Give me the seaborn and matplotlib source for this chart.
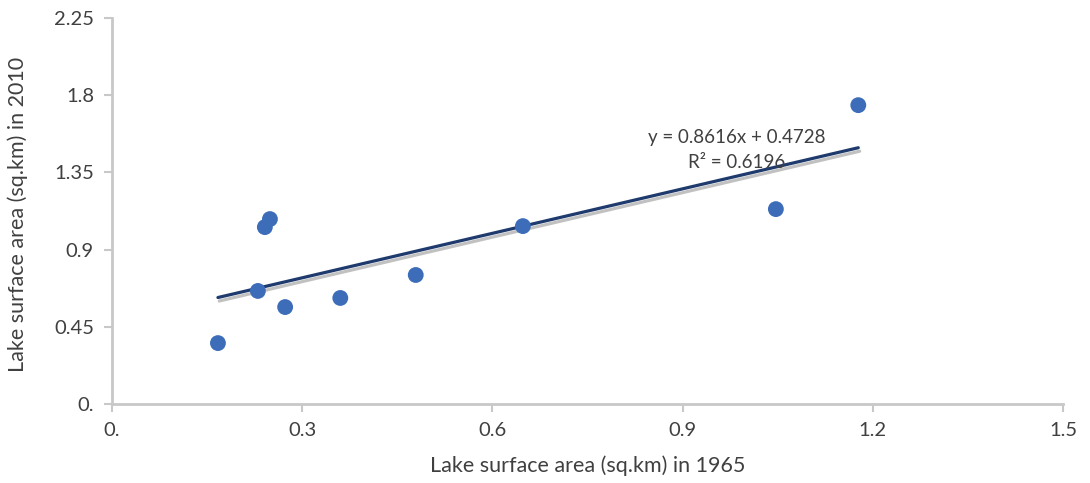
import matplotlib
matplotlib.use("Agg")
import matplotlib.pyplot as plt
import matplotlib.patheffects as pe
import seaborn as sns
import pandas as pd
import numpy as np

area_1965 = [0.167, 0.230, 0.241, 0.249, 0.273, 0.360, 0.479, 0.648, 1.047, 1.177]
area_2010 = [0.355, 0.659, 1.031, 1.078, 0.565, 0.618, 0.752, 1.037, 1.136, 1.742]
x_ticks = [0.0, 0.3, 0.6, 0.9, 1.2, 1.5]
x_tick_labels = ["0.", "0.3", "0.6", "0.9", "1.2", "1.5"]
y_ticks = [0.0, 0.45, 0.9, 1.35, 1.8, 2.25]
y_tick_labels = ["0.", "0.45", "0.9", "1.35", "1.8", "2.25"]
equation_text = "y = 0.8616x + 0.4728\nR² = 0.6196"

df = pd.DataFrame({"x": area_1965, "y": area_2010})

sns.set_theme(style="white")
plt.rcParams["font.family"] = ["Lato", "DejaVu Sans"]

fig = plt.figure(figsize=(10.9, 4.83), dpi=100)
ax = fig.add_axes([0.1028, 0.1636, 0.8725, 0.7991])

sns.scatterplot(data=df, x="x", y="y", ax=ax, s=130, color="#3D6DB9",
                edgecolor="none", zorder=3)
sns.regplot(data=df, x="x", y="y", ax=ax, ci=None, scatter=False, truncate=True,
            line_kws=dict(color="#1F3B6E", lw=2.3, zorder=2,
                          path_effects=[pe.SimpleLineShadow(offset=(1, -2.5), shadow_color="#999999", alpha=0.6),
                                        pe.Normal()]))

ax.set_xlim(0, 1.5)
ax.set_ylim(0, 2.25)
ax.set_xticks(x_ticks)
ax.set_xticklabels(x_tick_labels)
ax.set_yticks(y_ticks)
ax.set_yticklabels(y_tick_labels)

for s in ["top", "right"]:
    ax.spines[s].set_visible(False)
for s in ["left", "bottom"]:
    ax.spines[s].set_color("#C8C8C8")
    ax.spines[s].set_linewidth(2)
ax.tick_params(axis="both", which="major", length=6, width=1.5, color="#C8C8C8",
               labelsize=14.5, labelcolor="#404040", pad=7, direction="out",
               left=True, bottom=True)
ax.grid(False)

ax.set_xlabel("Lake surface area (sq.km) in 1965", fontsize=15.5, color="#404040", labelpad=12)
ax.set_ylabel("Lake surface area (sq.km) in 2010", fontsize=15.5, color="#404040")
ax.yaxis.set_label_coords(-0.088, 0.49)

ax.text(0.985, 1.48, equation_text, ha="center", va="center", fontsize=13.5,
        color="#404040", linespacing=1.55, zorder=4)

fig.savefig("out.png", dpi=100)
